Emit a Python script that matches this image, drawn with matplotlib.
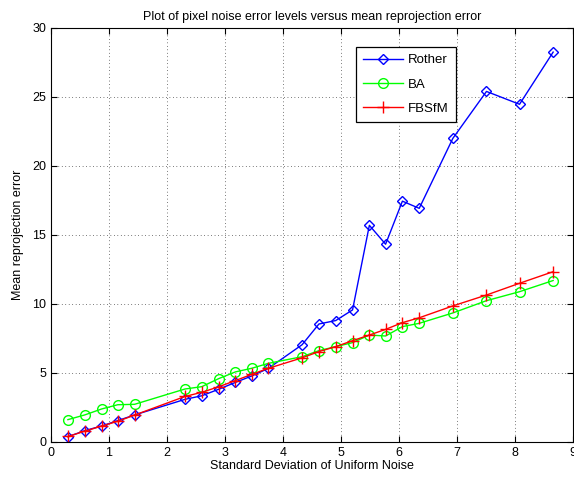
import matplotlib
matplotlib.use('Agg')
import matplotlib.pyplot as plt

plt.rcParams['font.family'] = ['Liberation Sans', 'DejaVu Sans']

# noise std (a / sqrt(3) for uniform noise in [-a, a])
noise_std = [0.29, 0.58, 0.87, 1.15, 1.44, 2.31, 2.60, 2.89, 3.18, 3.46, 3.75,
             4.33, 4.62, 4.91, 5.20, 5.49, 5.77, 6.06, 6.35, 6.93, 7.51, 8.08, 8.66]

rother = [0.38, 0.82, 1.16, 1.55, 1.96, 3.09, 3.35, 3.82, 4.32, 4.78, 5.34,
          7.05, 8.55, 8.80, 9.57, 15.7, 14.33, 17.45, 16.93, 22.0, 25.4, 24.47, 28.25]
ba = [1.62, 1.96, 2.39, 2.70, 2.73, 3.84, 4.01, 4.59, 5.08, 5.34, 5.70,
      6.18, 6.62, 6.91, 7.20, 7.75, 7.68, 8.36, 8.60, 9.35, 10.24, 10.89, 11.70]
fbsfm = [0.40, 0.78, 1.15, 1.50, 1.95, 3.30, 3.60, 4.00, 4.45, 4.90, 5.34,
         6.10, 6.55, 6.91, 7.34, 7.75, 8.16, 8.65, 9.00, 9.86, 10.65, 11.50, 12.34]

fig = plt.figure(figsize=(5.74, 4.82), dpi=100)
ax = fig.add_axes([0.089, 0.083, 0.909, 0.859])

ax.plot(noise_std, rother, color='#0000ff', marker='D', markersize=5.5,
        markerfacecolor='none', markeredgecolor='#0000ff', linewidth=1, label='Rother')
ax.plot(noise_std, ba, color='#00ff00', marker='o', markersize=7,
        markerfacecolor='none', markeredgecolor='#00ff00', linewidth=1, label='BA')
ax.plot(noise_std, fbsfm, color='#ff0000', marker='+', markersize=8,
        markeredgewidth=1, linewidth=1, label='FBSfM')

ax.set_xlim(0, 9)
ax.set_ylim(0, 30)
ax.set_xticks(range(0, 10))
ax.set_yticks(range(0, 31, 5))
ax.grid(True, color='black', linestyle=(0, (1, 4)), linewidth=0.5)
ax.tick_params(direction='in', top=True, right=True, labelsize=9, length=4)
for s in ax.spines.values():
    s.set_linewidth(0.8)

ax.set_title('Plot of pixel noise error levels versus mean reprojection error', fontsize=9, pad=6)
ax.set_xlabel('Standard Deviation of Uniform Noise', fontsize=9, labelpad=1)
ax.set_ylabel('Mean reprojection error', fontsize=9, labelpad=6)

leg = ax.legend(loc='upper left', bbox_to_anchor=(0.584, 0.954), borderaxespad=0,
                fontsize=9.5, fancybox=False, edgecolor='black', framealpha=1,
                handlelength=3.0, borderpad=0.55, labelspacing=0.9, handletextpad=0.4)
leg.get_frame().set_linewidth(0.9)

fig.savefig('out.png', dpi=100)
